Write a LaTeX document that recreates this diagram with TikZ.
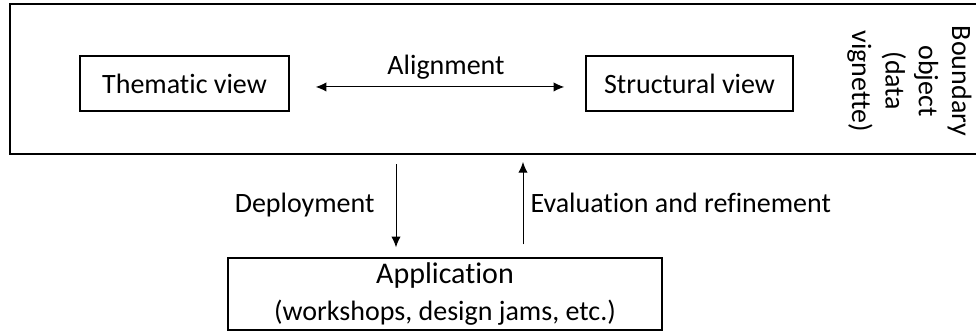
\documentclass[tikz,border=0pt]{standalone}
\usepackage{fontspec}
\setmainfont{Carlito}[Ligatures=NoCommon]
\usepackage{tikz}
\usetikzlibrary{arrows.meta}

\tikzset{
  box/.style={draw, line width=1.1pt, inner sep=0pt},
  lbl/.style={inner sep=0pt},
  arr/.style={line width=0.75pt, >={Latex[length=8pt,width=7pt]}},
}

\begin{document}
\begin{tikzpicture}[x=0.75pt,y=-0.75pt,font=\fontsize{21}{25}\selectfont]
		\useasboundingbox (0,0) rectangle (976,330);
		\clip (0,0) rectangle (976,330);
		\node[draw, line width=1.5pt, minimum width=735pt, minimum height=112.5pt] (boundary) at (500,79) {};
		\node[box, minimum width=156.75pt, minimum height=41.25pt] (thematic) at (184.5,83.5) {Thematic view};
		\node[box, minimum width=155.25pt, minimum height=41.25pt] (structural) at (689.5,83.5) {Structural view};
		\node[lbl, rotate=-90, align=center] (bdlabel) at (909.5,81) {Boundary\\object\\(data\\vignette)};
		\node[box, minimum width=325.5pt, minimum height=54pt, align=center] (application) at (445,294)
			{{\fontsize{22.5}{25}\selectfont Application}\\[3pt](workshops, design jams, etc.)};
		\coordinate (deploy) at (396,164);
		\coordinate (evaluate) at (523,162);
		%
		\path[arr]
		% horizontal arrow
		([yshift=-2.6pt]thematic.east) edge[<->, shorten <=19.5pt, shorten >=15.75pt]
			node[lbl, above=5.25pt, xshift=6.4pt]{Alignment} ([yshift=-2.6pt]structural.west)
		% vertical arrows
		(deploy) edge[->, shorten >=7.5pt]
			node[lbl, left=15.75pt, yshift=4.5pt]{Deployment} (deploy |- application.north)
		(evaluate |- application.north) edge[->, shorten <=9.75pt]
			node[lbl, right=5.25pt, yshift=5.25pt]{Evaluation and refinement} (evaluate);
\end{tikzpicture}
\end{document}
